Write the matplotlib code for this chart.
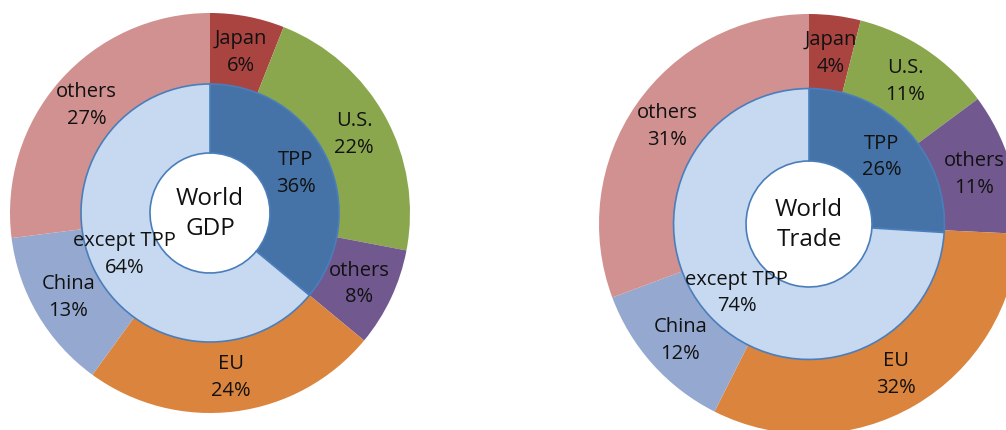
import matplotlib.pyplot as plt
import numpy as np

# ---- data ----
outer_labels = ["Japan", "U.S.", "others", "EU", "China", "others"]
gdp_outer_values = [6, 22, 8, 24, 13, 27]
trade_outer_values = [4, 11, 11, 32, 12, 31]

inner_labels = ["TPP", "except TPP"]
gdp_inner_values = [36, 64]
trade_inner_values = [26, 74]

titles = ["World\nGDP", "World\nTrade"]

outer_colors = ["#AA4441", "#8AA74E", "#71588F", "#DB843D", "#95A9D0", "#D19190"]
inner_colors = ["#4573A7", "#C6D9F0"]
edge_color = "#4A7EBB"

plt.rcParams['font.family'] = ['Open Sans', 'DejaVu Sans']

W, H = 1006, 431
fig = plt.figure(figsize=(W / 100, H / 100), dpi=100)
ax = fig.add_axes([0, 0, 1, 1])


def donut(center, R, outer_vals, inner_vals, title):
    r_mid = 0.645 * R
    r_hole = 0.30 * R
    wo, _ = ax.pie(outer_vals, radius=R, center=center, startangle=90,
                   counterclock=False, colors=outer_colors,
                   wedgeprops=dict(width=R - r_mid, linewidth=0))
    wi, _ = ax.pie(inner_vals, radius=r_mid, center=center, startangle=90,
                   counterclock=False, colors=inner_colors,
                   wedgeprops=dict(width=r_mid - r_hole, edgecolor=edge_color,
                                   linewidth=1.2))
    r_out_lab = (R + r_mid) / 2
    for w, lab, v in zip(wo, outer_labels, outer_vals):
        th = np.deg2rad((w.theta1 + w.theta2) / 2)
        ax.text(center[0] + r_out_lab * np.cos(th), center[1] + r_out_lab * np.sin(th),
                f"{lab}\n{v}%", ha="center", va="center", fontsize=14.5,
                linespacing=1.45, color="#111111", zorder=5)
    r_in_lab = (r_mid + r_hole) / 2
    for w, lab, v in zip(wi, inner_labels, inner_vals):
        th = np.deg2rad((w.theta1 + w.theta2) / 2)
        ax.text(center[0] + r_in_lab * np.cos(th), center[1] + r_in_lab * np.sin(th),
                f"{lab}\n{v}%", ha="center", va="center", fontsize=14.5,
                linespacing=1.45, color="#111111", zorder=5)
    ax.text(center[0], center[1], title, ha="center", va="center",
            fontsize=17.5, linespacing=1.3, color="#111111", zorder=5)


donut((210, 217), 200, gdp_outer_values, gdp_inner_values, titles[0])
donut((809, 206), 210, trade_outer_values, trade_inner_values, titles[1])

ax.set_xlim(0, W)
ax.set_ylim(0, H)
ax.set_aspect("equal")
ax.axis("off")

fig.savefig("out.png", dpi=100, facecolor="white")
